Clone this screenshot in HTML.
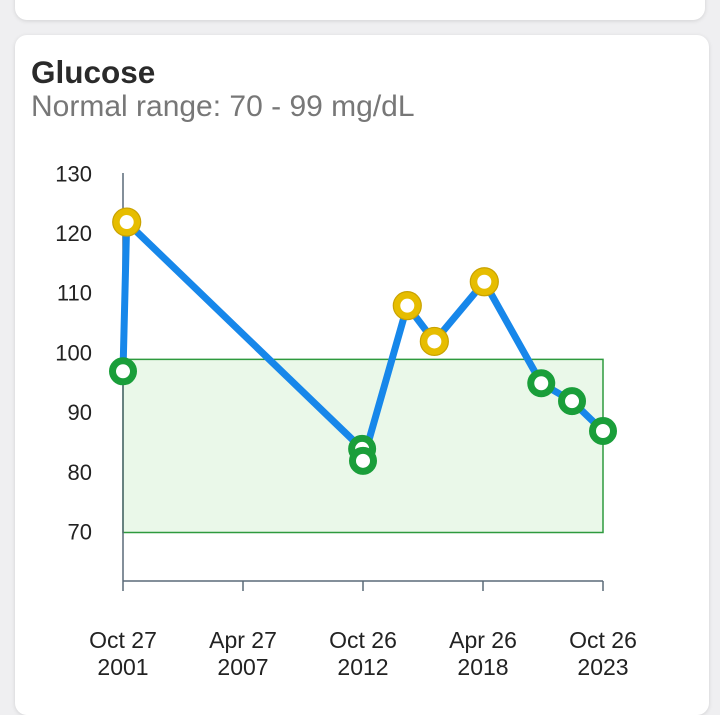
<!DOCTYPE html>
<html><head><meta charset="utf-8"><style>
body{margin:0;width:720px;height:700px;background:#efeff1;overflow:hidden;font-family:"Liberation Sans",sans-serif;position:relative}
.card{position:absolute;background:#fff;border-radius:12px;box-shadow:0 1px 4px rgba(0,0,0,.12)}
</style></head><body>
<div class="card" style="left:15px;top:-20px;width:690px;height:40px"></div>
<div class="card" style="left:15px;top:35px;width:694px;height:680px">
<div style="position:absolute;left:16px;top:19px;font-size:31.5px;font-weight:bold;color:#2a2a2a">Glucose</div>
<div style="position:absolute;left:16px;top:55px;font-size:30px;color:#777">Normal range: 70 - 99 mg/dL</div>
</div>
<svg id="chart" width="720" height="700" style="position:absolute;left:0;top:0"></svg>
<script>
const years=[2001.82,2001.99,2012.78,2012.82,2014.85,2016.09,2018.38,2020.99,2022.4,2023.82];
const values=[97,122,84,82,108,102,112,95,92,87];
const yTicks=[70,80,90,100,110,120,130];
const xTickYears=[2001.82,2007.32,2012.82,2018.32,2023.82];
const xTickLabels=[["Oct 27","2001"],["Apr 27","2007"],["Oct 26","2012"],["Apr 26","2018"],["Oct 26","2023"]];
const rangeLo=70, rangeHi=99;
const X=v=>123+(v-2001.82)*(480/22);
const Y=v=>532.5-(v-70)*5.97;
const svg=document.getElementById('chart');
const NS='http://www.w3.org/2000/svg';
function mk(t,a,p){const e=document.createElementNS(NS,t);for(const k in a)e.setAttribute(k,a[k]);(p||svg).appendChild(e);return e;}
let r=mk('rect',{x:123,y:Y(rangeHi),width:480,height:Y(rangeLo)-Y(rangeHi),fill:'#eaf8e9',stroke:'#2e9a3e','stroke-width':1.5});


let ax=mk('line',{x1:123,y1:173,x2:123,y2:581,stroke:'#5a6a78','stroke-width':1.5});


let bx=mk('line',{x1:123,y1:581,x2:603,y2:581,stroke:'#5a6a78','stroke-width':1.5});


yTicks.forEach(v=>{const t=mk('text',{x:92,y:Y(v)+7,'text-anchor':'end','font-size':22,fill:'#222'});t.textContent=v;

});
xTickYears.forEach((v,i)=>{const x=X(v);mk('line',{x1:x,y1:581,x2:x,y2:591,stroke:'#5a6a78','stroke-width':1.5});
const t=mk('text',{x:x,y:648,'text-anchor':'middle','font-size':23,fill:'#222'});


const a=mk('tspan',{x:x},t);a.textContent=xTickLabels[i][0];
const b=mk('tspan',{x:x,dy:27},t);b.textContent=xTickLabels[i][1];});
let pl=mk('polyline',{points:years.map((y,i)=>X(y)+','+Y(values[i])).join(' '),fill:'none',stroke:'#1787ea','stroke-width':7,'stroke-linejoin':'round'});


years.forEach((y,i)=>{const v=values[i];const ok=v>=rangeLo&&v<=rangeHi;
const c=mk('circle',{cx:X(y),cy:Y(v),r:10.5,fill:'#fff',stroke:ok?'#1a9e3a':'#e6bd00','stroke-width':7});


if(!ok)mk('circle',{cx:X(y),cy:Y(v),r:14,fill:'none',stroke:'#c9a200','stroke-width':1.2});});
</script>
</body></html>
